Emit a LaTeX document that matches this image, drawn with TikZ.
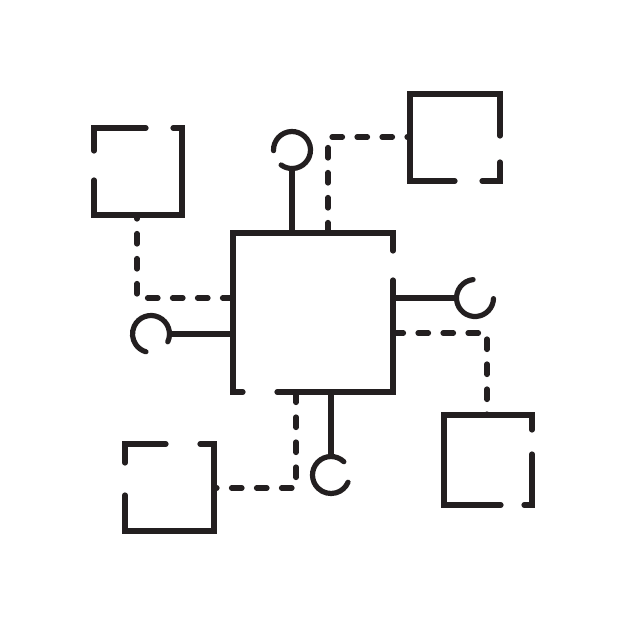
\documentclass[tikz,border=0pt]{standalone}
\usepackage{tikz}
\usetikzlibrary{calc}
\definecolor{iconink}{RGB}{35,31,32}

\begin{document}
\begin{tikzpicture}[x=1pt, y=1pt, line width=5.2pt, line cap=round, line join=miter,
        box_style/.style={draw=iconink},
        stem_style/.style={draw=iconink},
        ring_style/.style={draw=iconink},
        link_style/.style={draw=iconink, dash pattern=on 10.5pt off 14.5pt}]

        \useasboundingbox (0,0) rectangle (626,-626);

        \coordinate (h1) at (233,-298);
        \coordinate (h2) at (328,-233);
        \coordinate (h3) at (393,-333);
        \coordinate (h4) at (296,-392);
        \coordinate (s1) at (137,-215);
        \coordinate (s2) at (410,-137);
        \coordinate (s3) at (487,-415);
        \coordinate (s4) at (214,-488);
        \coordinate (p1) at (292,-233);
        \coordinate (p2) at (393,-298);
        \coordinate (p3) at (233,-334);
        \coordinate (p4) at (331,-392);
        \coordinate (q1) at (292,-168.5);
        \coordinate (q2) at (456.5,-298);
        \coordinate (q3) at (169.5,-334);
        \coordinate (q4) at (331,-456.5);
        \coordinate (r1) at (292,-150);
        \coordinate (r2) at (475,-298);
        \coordinate (r3) at (151,-334);
        \coordinate (r4) at (331,-475);

        \draw [box_style] (393,-251) -- (393,-233) -- (233,-233) -- (233,-392) -- (243,-392);
        \draw [box_style] (277,-392) -- (393,-392) -- (393,-280);
        \draw [box_style] (146,-128) -- (94,-128) -- (94,-151);
        \draw [box_style] (94,-180) -- (94,-215) -- (182,-215) -- (182,-128) -- (173,-128);
        \draw [box_style] (500,-136) -- (500,-94) -- (410,-94) -- (410,-181) -- (455,-181);
        \draw [box_style] (482,-181) -- (500,-181) -- (500,-162);
        \draw [box_style] (532,-430) -- (532,-415) -- (444,-415) -- (444,-505) -- (501,-505);
        \draw [box_style] (524,-505) -- (532,-505) -- (532,-454);
        \draw [box_style] (166,-444) -- (125,-444) -- (125,-463);
        \draw [box_style] (125,-495) -- (125,-531) -- (214,-531) -- (214,-444) -- (200,-444);

        \draw [stem_style] (p1) -- (q1);
        \draw [stem_style] (p2) -- (q2);
        \draw [stem_style] (p3) -- (q3);
        \draw [stem_style] (p4) -- (q4);
        \draw [ring_style] (r1) ++(182:18.5) arc[start angle=182, end angle=-126, radius=18.5];
        \draw [ring_style] (r2) ++(96:18.5) arc[start angle=96, end angle=358, radius=18.5];
        \draw [ring_style] (r3) ++(-25:18.5) arc[start angle=-25, end angle=254, radius=18.5];
        \draw [ring_style] (r4) ++(46:18.5) arc[start angle=46, end angle=337, radius=18.5];

        \draw [link_style] (h1) -| (s1);
        \draw [link_style] (h2) |- (s2);
        \draw [link_style] (h3) -| (s3);
        \draw [link_style] (h4) |- (s4);
\end{tikzpicture}
\end{document}
